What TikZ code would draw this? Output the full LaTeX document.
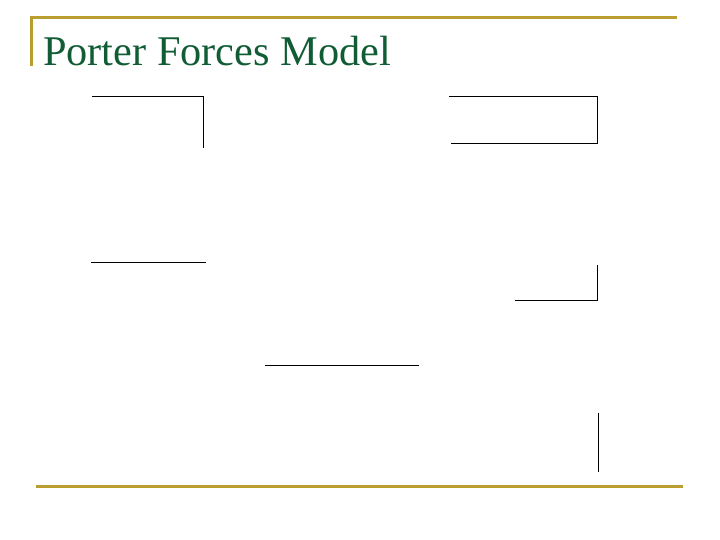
\documentclass[tikz,border=0pt]{standalone}
\usepackage{fontspec}
\setmainfont{Liberation Serif}
\usetikzlibrary{positioning,calc}
\definecolor{titlegreen}{RGB}{16,92,52}
\definecolor{rulegold}{RGB}{186,158,48}
\tikzset{>=latex}

\begin{document}
\begin{tikzpicture}[x=1pt,y=-1pt]

    \useasboundingbox (0,0) rectangle (720,540);

    \node [anchor=base west,inner sep=0pt,text=titlegreen,font=\fontsize{42.3}{46}\selectfont] (title) at (43,66) {Porter Forces Model};

    % frame corners
    \coordinate (tl) at (31,18);
    \coordinate (tr) at (677,18);
    \coordinate (tb) at (31,66);
    \coordinate (bl) at (36,486);
    \coordinate (br) at (683,486);

    % line ends
    \coordinate (a1) at (92,97);
    \coordinate (a2) at (203,97);
    \coordinate (a3) at (203,148);
    \coordinate (b1) at (449,97);
    \coordinate (b2) at (597,97);
    \coordinate (b3) at (597,144);
    \coordinate (b4) at (451,144);
    \coordinate (c1) at (91,262);
    \coordinate (c2) at (206,262);
    \coordinate (d1) at (597,265);
    \coordinate (d2) at (597,300);
    \coordinate (d3) at (515,300);
    \coordinate (e1) at (265,365);
    \coordinate (e2) at (419,365);
    \coordinate (f1) at (598,413);
    \coordinate (f2) at (598,472);

    \begin{scope}[line width=3pt,color=rulegold]
    \draw (tb) -- (tl) -- (tr);
    \draw (bl) -- (br);
    \end{scope}

    \begin{scope}[line width=1pt,color=black]
    \draw (a1) -- (a2) -- (a3);
    \draw (b1) -- (b2) -- (b3);
    \draw (b4) -- (b3);
    \draw (c1) -- (c2);
    \draw (d1) -- (d2) -- (d3);
    \draw (e1) -- (e2);
    \draw (f1) -- (f2);
    \end{scope}

\end{tikzpicture}
\end{document}
